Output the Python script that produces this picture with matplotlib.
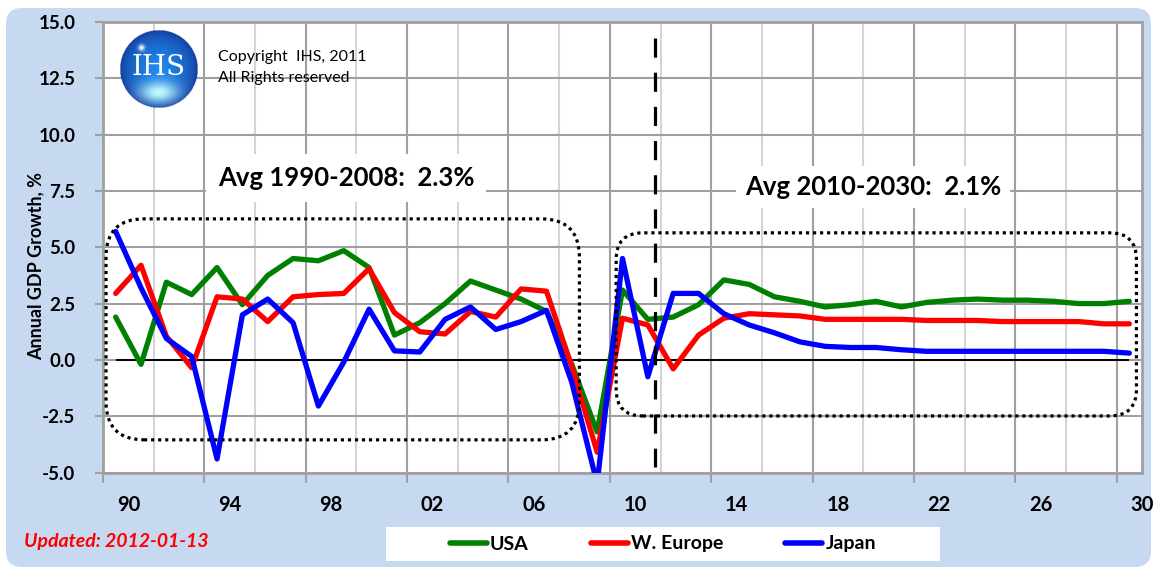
import numpy as np
import matplotlib
matplotlib.use("Agg")
import matplotlib.pyplot as plt
from matplotlib.patches import FancyBboxPatch, Rectangle
from matplotlib.lines import Line2D
from matplotlib.transforms import ScaledTranslation

# data (annual GDP growth, %)
years = list(range(1990, 2031))
usa = [1.9, -0.2, 3.45, 2.9, 4.1, 2.45, 3.75, 4.5, 4.4, 4.85, 4.1, 1.1, 1.65, 2.5,
       3.5, 3.1, 2.7, 2.15, -0.2, -3.2, 3.1, 1.8, 1.9, 2.45, 3.55, 3.35, 2.8, 2.6,
       2.35, 2.45, 2.6, 2.35, 2.55, 2.65, 2.7, 2.65, 2.65, 2.6, 2.5, 2.5, 2.6]
weur = [2.95, 4.2, 1.05, -0.35, 2.8, 2.7, 1.7, 2.8, 2.9, 2.95, 4.05, 2.1, 1.25, 1.15,
        2.15, 1.9, 3.15, 3.05, -0.3, -4.1, 1.85, 1.55, -0.4, 1.1, 1.85, 2.05, 2.0, 1.95,
        1.8, 1.8, 1.8, 1.8, 1.75, 1.75, 1.75, 1.7, 1.7, 1.7, 1.7, 1.6, 1.6]
japan = [5.7, 3.2, 0.95, 0.15, -4.4, 2.0, 2.7, 1.65, -2.05, -0.1, 2.25, 0.4, 0.35, 1.8,
         2.35, 1.35, 1.7, 2.2, -1.0, -5.5, 4.5, -0.75, 2.95, 2.95, 2.05, 1.55, 1.2, 0.8,
         0.6, 0.55, 0.55, 0.45, 0.38, 0.38, 0.38, 0.38, 0.38, 0.38, 0.38, 0.38, 0.3]
series_names = ["USA", "W. Europe", "Japan"]
series_colors = ["#008000", "#ff0000", "#0000ff"]
yticks = [-5.0, -2.5, 0.0, 2.5, 5.0, 7.5, 10.0, 12.5, 15.0]
xlabel_years = list(range(1990, 2031, 4))

W, H = 1155, 572
fig = plt.figure(figsize=(W / 100, H / 100), dpi=100)
fig.patch.set_facecolor("white")

# background panel (pixel coords)
bg = fig.add_axes([0, 0, 1, 1], zorder=0)
bg.set_xlim(0, W)
bg.set_ylim(H, 0)
bg.axis("off")
bg.add_patch(FancyBboxPatch((6, 8), 1145, 559, boxstyle="round,pad=0,rounding_size=16",
                            fc="#c6d9f1", ec="none"))
bg.add_patch(Rectangle((386, 527), 554, 34, fc="white", ec="none"))

ax = fig.add_axes([103 / W, 1 - 472.5 / H, (1142 - 103) / W, (472.5 - 22) / H], zorder=1)
ax.set_xlim(1989.5, 2030.5)
ax.set_ylim(-5, 15)
ax.set_facecolor("white")
ax.set_axisbelow(True)

# gridlines / ticks
ax.set_xticks([y - 0.5 for y in xlabel_years])
ax.set_xticklabels(["%02d" % (y % 100) for y in xlabel_years])
ax.set_xticks([y + 1.5 for y in xlabel_years[:-1]], minor=True)
ax.set_yticks(yticks)
ax.set_yticklabels(["%.1f" % v for v in yticks])
ax.grid(which="major", axis="both", color="#a0a0a0", lw=1.5)
ax.grid(which="minor", axis="x", color="#d4d4d4", lw=1.5)
ax.tick_params(axis="x", which="major", length=7, width=1.5, color="#a0a0a0", pad=9)
ax.tick_params(axis="x", which="minor", length=0)
ax.tick_params(axis="y", length=6, width=1.5, color="#a0a0a0", pad=14)
for lab in ax.get_xticklabels():
    lab.set_fontsize(14.5)
    lab.set_fontweight("bold")
    lab.set_fontfamily("Lato")
    lab.set_transform(lab.get_transform() + ScaledTranslation(0.2534, 0, fig.dpi_scale_trans))
for lab in ax.get_yticklabels():
    lab.set_fontsize(13.5)
    lab.set_fontweight("bold")
    lab.set_fontfamily("Lato")
for s in ax.spines.values():
    s.set_color("#a0a0a0")
    s.set_linewidth(2)

ax.hlines(0, years[0], years[-1], color="black", lw=1.4, zorder=2)

for vals, name, col in zip([usa, weur, japan], series_names, series_colors):
    ax.plot(years, vals, color=col, lw=3.8, solid_joinstyle="round",
            solid_capstyle="round", label=name, zorder=3)

# dotted rounded boxes (data coords, corrected for pixel aspect)
asp = 25.34 / 22.52
ax.add_patch(FancyBboxPatch((1989.62, -3.55), 2008.3 - 1989.62, 6.26 + 3.55,
                            boxstyle="round,pad=0,rounding_size=1.5", mutation_aspect=asp,
                            fill=False, ec="black", lw=2.3, ls=(0, (1, 1.2)), zorder=4))
ax.add_patch(FancyBboxPatch((2009.75, -2.49), 2030.28 - 2009.75, 5.64 + 2.49,
                            boxstyle="round,pad=0,rounding_size=1.05", mutation_aspect=asp,
                            fill=False, ec="black", lw=2.3, ls=(0, (1, 1.2)), zorder=4))
ax.plot([2011.28, 2011.28], [14.3, -4.75], color="black", lw=2.3, ls=(0, (6, 4.7)), zorder=4)

# overlay (pixel coords)
fg = fig.add_axes([0, 0, 1, 1], zorder=5)
fg.set_xlim(0, W)
fg.set_ylim(H, 0)
fg.axis("off")
fg.patch.set_alpha(0)

fg.text(36, 266, "Annual GDP Growth, %", fontsize=13, fontweight="bold", family="Lato",
        rotation=90, ha="center", va="center")
fg.text(218, 178, "Avg 1990-2008:  2.3%", fontsize=18.5, fontweight="bold", family="Lato",
        va="center", ha="left",
        bbox=dict(boxstyle="square,pad=0.45", fc="white", ec="none"))
fg.text(745, 187, "Avg 2010-2030:  2.1%", fontsize=18.5, fontweight="bold", family="Lato",
        va="center", ha="left",
        bbox=dict(boxstyle="square,pad=0.35", fc="white", ec="none"))
fg.text(218, 57, "Copyright  IHS, 2011", fontsize=11.5, family="Lato", va="center")
fg.text(218, 78, "All Rights reserved", fontsize=11.5, family="Lato", va="center")
fg.text(24, 541, "Updated: 2012-01-13", fontsize=14, color="red", fontweight="bold",
        style="italic", family="Lato", va="center")

# IHS logo: shaded sphere
lg = fig.add_axes([119.5 / W, 1 - 108 / H, 78 / W, 78 / H], zorder=6)
lg.axis("off")
n = 200
u, v = np.meshgrid(np.linspace(-1, 1, n), np.linspace(-1, 1, n))
r = np.sqrt(u ** 2 + v ** 2)
dark = np.array([0.07, 0.20, 0.58])
mid = np.array([0.12, 0.55, 0.95])
glow = np.array([0.75, 0.98, 1.0])
t = np.clip(1 - r, 0, 1)[..., None]
img = dark + (mid - dark) * t ** 0.5
g = np.exp(-((u / 0.5) ** 2 + ((v - 0.6) / 0.28) ** 2))[..., None]
img = img + (glow - img) * g
spec = np.exp(-(((u + 0.45) / 0.08) ** 2 + ((v + 0.55) / 0.08) ** 2))[..., None]
img = img + (1 - img) * spec
alpha = (r <= 1).astype(float)
rgba = np.dstack([np.clip(img, 0, 1), alpha])
lg.imshow(rgba, extent=(-1, 1, 1, -1), origin="upper")
lg.set_xlim(-1, 1)
lg.set_ylim(1, -1)
lg.text(0, -0.05, "IHS", color="white", fontsize=20, family="DejaVu Serif",
        ha="center", va="center")

handles = [Line2D([], [], color=c, lw=4, solid_capstyle="round") for c in series_colors]
fig.legend(handles, series_names, loc="center", bbox_to_anchor=(663 / W, 1 - 544 / H),
           ncol=3, frameon=False, prop=dict(family="Lato", weight="bold", size=14),
           handlelength=1.9, handletextpad=0.15, columnspacing=3.2)

fig.savefig("out.png", dpi=100)
